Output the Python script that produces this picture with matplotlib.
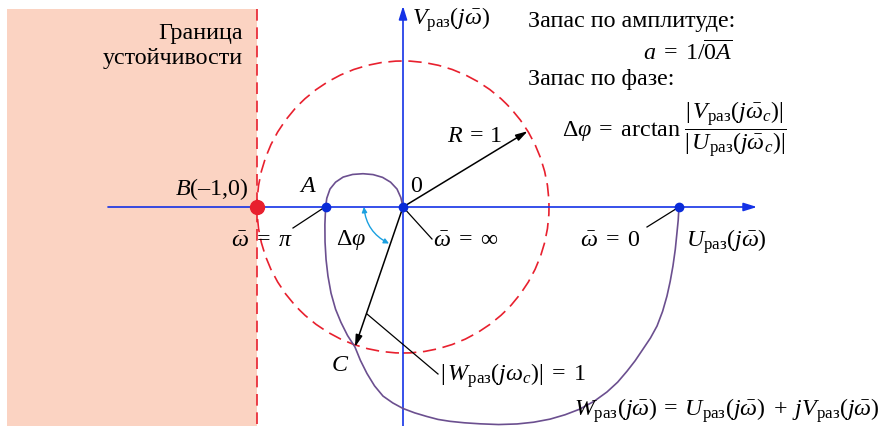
import numpy as np
import matplotlib
matplotlib.use("Agg")
import matplotlib.pyplot as plt
from matplotlib.patches import Rectangle, Circle, FancyArrowPatch

# =====================================================
# DATA
# =====================================================

# годограф W_раз(jw) : U (real part), V (imag part)
curve_u = [1.890, 1.885, 1.877, 1.865, 1.849, 1.830, 1.808, 1.778, 1.740, 1.695,
           1.644, 1.590, 1.534, 1.470, 1.397, 1.310, 1.212, 1.110, 1.007, 0.895,
           0.781, 0.655, 0.527, 0.420, 0.322, 0.240, 0.164, 0.080, 0.000, -0.070,
           -0.137, -0.195, -0.247, -0.292, -0.329, -0.380, -0.425, -0.462, -0.493,
           -0.514, -0.527, -0.534, -0.535, -0.530,
           -0.522, -0.500, -0.462, -0.410, -0.345, -0.274, -0.205, -0.140, -0.085,
           -0.041, -0.015, 0.000]
curve_v = [0.000, -0.090, -0.171, -0.290, -0.404, -0.510, -0.610, -0.715, -0.815, -0.897,
           -0.973, -1.053, -1.125, -1.200, -1.267, -1.330, -1.384, -1.423, -1.453, -1.474,
           -1.486, -1.490, -1.485, -1.478, -1.468, -1.455, -1.435, -1.410, -1.380, -1.342,
           -1.295, -1.225, -1.140, -1.050, -0.959, -0.880, -0.790, -0.700, -0.590,
           -0.473, -0.360, -0.240, -0.120, 0.000,
           0.060, 0.123, 0.170, 0.205, 0.223, 0.228, 0.222, 0.203, 0.170,
           0.123, 0.065, 0.000]

point_A = (-0.530, 0.0)
point_B = (-1.0, 0.0)
point_w0 = (1.890, 0.0)
point_C = (-0.329, -0.959)
radius = 1.0
r_angle = 31.3  # degrees, direction of R = 1 arrow

# =====================================================
# FIGURE
# =====================================================

plt.rcParams["font.family"] = ["Liberation Serif", "DejaVu Serif"]
plt.rcParams["mathtext.fontset"] = "custom"
plt.rcParams["mathtext.rm"] = "Liberation Serif"
plt.rcParams["mathtext.it"] = "Liberation Serif:italic"
plt.rcParams["mathtext.bf"] = "Liberation Serif:bold"

SCALE = 146.0  # pixels per unit
X0, Y0 = 403.0, 208.0  # origin in pixels
W, H = 882, 427


def px(x, y):
    return ((x - X0) / SCALE, (Y0 - y) / SCALE)


fig = plt.figure(figsize=(W / 100, H / 100), dpi=100)
ax = fig.add_axes([0, 0, 1, 1])
ax.set_xlim(-X0 / SCALE, (W - X0) / SCALE)
ax.set_ylim(-(H - Y0) / SCALE, Y0 / SCALE)
ax.axis("off")

blue = "#1432e6"
red = "#e8202e"
purple = "#6b4f8f"
cyan = "#1aa0e0"
fs = 17.3

# stability region
x_left, y_top = px(7, 10)
x_b = point_B[0]
ax.add_patch(Rectangle((x_left, -3), x_b - x_left, y_top + 3,
                       facecolor="#fbd3c2", edgecolor="none", zorder=0))
ax.plot([x_b, x_b], [y_top, -3], color=red, lw=1.2, ls=(0, (7, 4)), zorder=1)

# unit circle
ax.add_patch(Circle((0, 0), radius, fill=False, edgecolor=red, lw=1.2,
                    ls=(0, (8, 4)), zorder=1))

# axes
hx0 = px(108, 0)[0]
hx1 = px(757, 0)[0]
ax.annotate("", xy=(hx1, 0), xytext=(hx0, 0),
            arrowprops=dict(arrowstyle="-|>,head_length=0.8,head_width=0.25",
                            color=blue, lw=1.2, shrinkA=0, shrinkB=0), zorder=2)
vy1 = px(0, 7)[1]
ax.annotate("", xy=(0, vy1), xytext=(0, -3),
            arrowprops=dict(arrowstyle="-|>,head_length=0.8,head_width=0.25",
                            color=blue, lw=1.2, shrinkA=0, shrinkB=0), zorder=2)

# hodograph
ax.plot(curve_u, curve_v, color=purple, lw=1.2, zorder=3,
        solid_joinstyle="round", solid_capstyle="round")

# R = 1 arrow
ra = np.deg2rad(r_angle)
ax.annotate("", xy=(radius * np.cos(ra), radius * np.sin(ra)), xytext=(0, 0),
            arrowprops=dict(arrowstyle="-|>,head_length=0.7,head_width=0.2",
                            color="black", lw=1.1, shrinkA=0, shrinkB=0), zorder=4)
# arrow to C
ax.annotate("", xy=point_C, xytext=(0, 0),
            arrowprops=dict(arrowstyle="-|>,head_length=0.7,head_width=0.2",
                            color="black", lw=1.1, shrinkA=0, shrinkB=0), zorder=4)

# phase margin arc
a1 = np.deg2rad(176)
a2 = np.arctan2(point_C[1], point_C[0]) + np.deg2rad(2)
rr = 0.27
ax.add_patch(FancyArrowPatch((rr * np.cos(a1), rr * np.sin(a1)),
                             (rr * np.cos(a2), rr * np.sin(a2)),
                             connectionstyle="arc3,rad=0.3",
                             arrowstyle="<|-|>,head_length=3,head_width=1.5",
                             color=cyan, lw=1.0, zorder=4))

# leader lines
leaders = [((325, 208), (293, 229)),
           ((403, 208), (432, 240)),
           ((679, 208), (647, 228)),
           ((367, 315), (438, 375))]
for p1, p2 in leaders:
    a = px(*p1)
    b = px(*p2)
    ax.plot([a[0], b[0]], [a[1], b[1]], color="black", lw=0.9, zorder=4)

# points
ax.plot(*point_B, "o", color=red, ms=10, zorder=5)
for p in (point_A, (0, 0), point_w0):
    ax.plot(*p, "o", color="#0a2bd8", ms=6, zorder=5)

# labels
def label(x, y, s, ha="center", va="center", size=fs):
    ax.text(*px(x, y), s, ha=ha, va=va, fontsize=size, color="black", zorder=6)


label(243, 46, "Граница\nустойчивости", ha="right")
label(412, 20, r"$V_{\mathrm{раз}}(j\bar{\omega})$", ha="left")
label(686, 242, r"$U_{\mathrm{раз}}(j\bar{\omega})$", ha="left")
label(249, 189, r"$B$(–1,0)", ha="right")
label(308, 187, r"$A$")
label(416, 187, r"$0$")
label(475, 136, r"$R\:=\:1$")
label(351, 240, r"$\Delta\varphi$")
label(340, 366, r"$C$")
label(262, 242, r"$\bar{\omega}\;=\;\pi$")
label(433, 242, r"$\bar{\omega}\;=\;\infty$", ha="left")
label(610, 242, r"$\bar{\omega}\;=\;0$")
label(440, 376, r"$|\,W_{\mathrm{раз}}(j\omega_c)|\;=\;1$", ha="left")
label(528, 21, "Запас по амплитуде:", ha="left")
label(733, 53, r"$a\;=\;1/\overline{\mathrm{0}A}$", ha="right")
label(528, 79, "Запас по фазе:", ha="left")
label(562, 130,
      r"$\Delta\varphi\;=\;\mathrm{arctan}\;\dfrac{|\,V_{\mathrm{раз}}(j\bar{\omega}_c)|}{|\,U_{\mathrm{раз}}(j\bar{\omega}_c)|}$",
      ha="left")
label(880, 411,
      r"$W_{\mathrm{раз}}(j\bar{\omega})\:=\:U_{\mathrm{раз}}(j\bar{\omega})\;+\;jV_{\mathrm{раз}}(j\bar{\omega})$",
      ha="right")

plt.savefig("out.png", dpi=100)
